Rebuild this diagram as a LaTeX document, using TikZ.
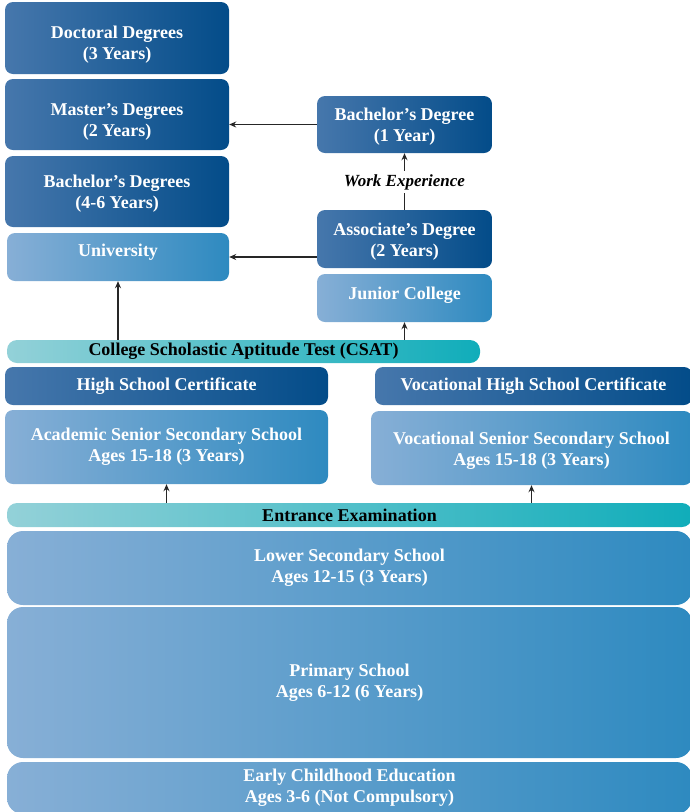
\documentclass[tikz,border=0pt]{standalone}
\usepackage{fontspec}
\setmainfont{Liberation Serif}
\usetikzlibrary{
    arrows.meta,
    positioning,
    calc
}

% Shading colours
\definecolor{degL}{HTML}{4677AC}
\definecolor{degR}{HTML}{034C89}
\definecolor{schL}{HTML}{87AFD6}
\definecolor{schR}{HTML}{2E8AC0}
\definecolor{examL}{HTML}{93D1D8}
\definecolor{examR}{HTML}{10ADBA}

% Moves the text inside a box without moving the box
\newcommand{\nudged}[2]{\raisebox{#1}[\height][\depth]{\begin{tabular}{@{}c@{}}#2\end{tabular}}}

\begin{document}
\begin{tikzpicture}[
    x=1pt, y=-1pt,
    % Box styling
    box/.style={
        rounded corners=8pt,
        text=white,
        font=\fontsize{18}{21}\selectfont\bfseries,
        align=center,
        inner sep=2pt
    },
    degree/.style={
        box,
        left color=degL,
        right color=degR
    },
    school/.style={
        box,
        left color=schL,
        right color=schR
    },
    level/.style={
        school,
        rounded corners=16pt
    },
    exam/.style={
        box,
        rounded corners=10pt,
        left color=examL,
        right color=examR,
        text=black,
        inner sep=0pt
    },
    arrow/.style={
        -{Stealth[length=7pt,width=6pt]},
        line width=1.2pt,
        black!85
    }
]
    \useasboundingbox (0,0) rectangle (689,812);

    % University track
    \node[degree, minimum width=224pt, minimum height=72pt] (doctoral) at (117,38) {\nudged{-7pt}{Doctoral Degrees\\(3 Years)}};
    \node[degree, minimum width=224pt, minimum height=71pt] (master) at (117,114.5) {\nudged{-7pt}{Master’s Degrees\\(2 Years)}};
    \node[degree, minimum width=224pt, minimum height=71pt] (bachelors) at (117,191.5) {\nudged{-2pt}{Bachelor’s Degrees\\(4-6 Years)}};
    \node[school, minimum width=222pt, minimum height=48pt] (university) at (118,257) {\nudged{5pt}{University}};

    % Junior college track
    \node[degree, minimum width=175pt, minimum height=57pt] (bachelor) at (404.5,124.5) {\nudged{-2pt}{Bachelor’s Degree\\(1 Year)}};
    \node[font=\fontsize{17}{20}\selectfont\bfseries\itshape] (work) at (404.5,182) {Work Experience};
    \node[degree, minimum width=175pt, minimum height=58pt] (associate) at (404.5,239) {\nudged{-3pt}{Associate’s Degree\\(2 Years)}};
    \node[school, minimum width=175pt, minimum height=48pt] (junior) at (404.5,298) {\nudged{3pt}{Junior College}};

    % Exams and secondary schools
    \node[exam, minimum width=473pt, minimum height=23pt] (csat) at (243.5,351.5) {College Scholastic Aptitude Test (CSAT)};
    \node[degree, minimum width=323pt, minimum height=38pt] (hscert) at (166.5,386) {High School Certificate};
    \node[degree, minimum width=317pt, minimum height=38pt] (vhscert) at (533.5,386) {Vocational High School Certificate};
    \node[school, minimum width=323pt, minimum height=74pt] (academic) at (166.5,447) {Academic Senior Secondary School\\Ages 15-18 (3 Years)};
    \node[school, minimum width=321pt, minimum height=74pt] (vocational) at (531.5,448) {\nudged{-3pt}{Vocational Senior Secondary School\\Ages 15-18 (3 Years)}};
    \node[exam, minimum width=685pt, minimum height=24pt] (entrance) at (349.5,515) {Entrance Examination};

    % Compulsory levels
    \node[level, minimum width=685pt, minimum height=74pt] (lower) at (349.5,568) {Lower Secondary School\\Ages 12-15 (3 Years)};
    \node[level, minimum width=685pt, minimum height=151pt] (primary) at (349.5,682.5) {Primary School\\Ages 6-12 (6 Years)};
    \node[level, minimum width=685pt, minimum height=52pt] (early) at (349.5,788) {Early Childhood Education\\Ages 3-6 (Not Compulsory)};

    % Arrows
    \draw[arrow] (bachelor.west) -- (bachelor.west -| master.east);
    \draw[arrow] (university.east -| associate.west) -- (university.east);
    \draw[line width=1.2pt, black!85] (associate.north) -- (work.south);
    \draw[arrow] (work.north) -- (bachelor.south);
    \draw[arrow] (csat.north -| university.south) -- (university.south);
    \draw[arrow] (csat.north -| junior.south) -- (junior.south);
    \draw[arrow] (entrance.north -| academic.south) -- (academic.south);
    \draw[arrow] (entrance.north -| vocational.south) -- (vocational.south);
\end{tikzpicture}
\end{document}
